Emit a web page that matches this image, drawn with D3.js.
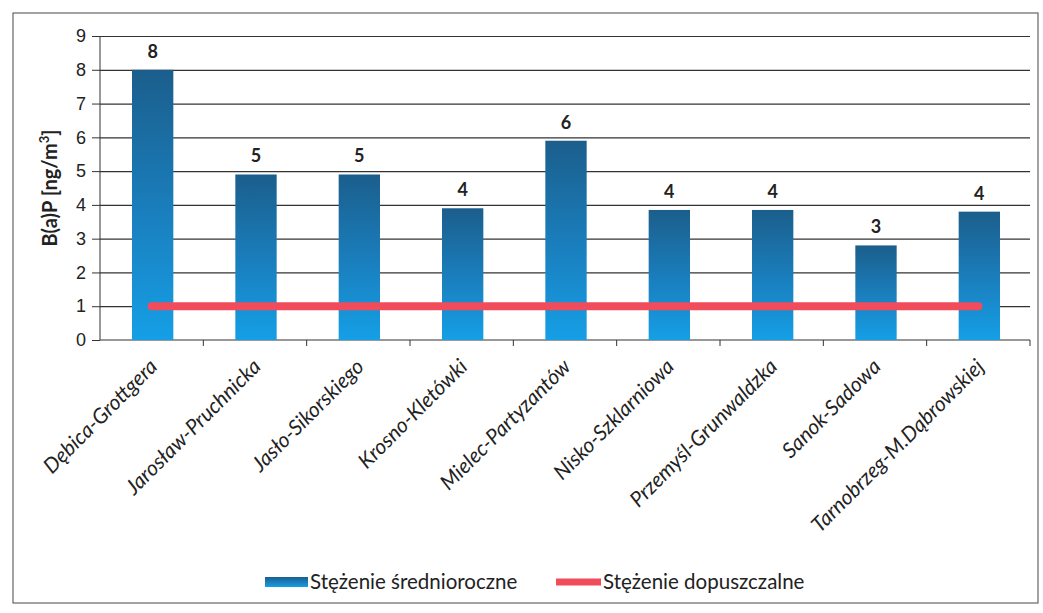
<!DOCTYPE html>
<html>
<head>
<meta charset="utf-8">
<script src="https://cdn.jsdelivr.net/npm/d3@7"></script>
<style>
  body { margin: 0; background: #fff; }
  svg { display: block; font-family: Lato, "Open Sans", sans-serif; }
</style>
</head>
<body>
<svg id="chart"></svg>
<script>
const stations = ['Dębica-Grottgera', 'Jarosław-Pruchnicka', 'Jasło-Sikorskiego', 'Krosno-Kletówki',
  'Mielec-Partyzantów', 'Nisko-Szklarniowa', 'Przemyśl-Grunwaldzka', 'Sanok-Sadowa', 'Tarnobrzeg-M.Dąbrowskiej'];
const annualMean = [8.0, 4.9, 4.9, 3.9, 5.9, 3.85, 3.85, 2.8, 3.8];
const limitValue = [1, 1, 1, 1, 1, 1, 1, 1, 1];
const yTicks = [0, 1, 2, 3, 4, 5, 6, 7, 8, 9];
const seriesNames = ['Stężenie średnioroczne', 'Stężenie dopuszczalne'];

(function() {
    const W = 1043, H = 613;
    const left = 100, right = 1030, top = 36, bottom = 340;

    const svg = d3.select('svg#chart')
        .attr('width', W)
        .attr('height', H);

    // outer frame of the pasted chart
    svg.append('rect')
        .attr('x', 13).attr('y', 13)
        .attr('width', 1025).attr('height', 590)
        .attr('fill', 'none')
        .attr('stroke', '#666')
        .attr('stroke-width', 1.2);

    const defs = svg.append('defs');
    const grad = defs.append('linearGradient')
        .attr('id', 'barGrad')
        .attr('x1', 0).attr('y1', 0).attr('x2', 0).attr('y2', 1);
    grad.append('stop').attr('offset', '0%').attr('stop-color', '#1b5e8c');
    grad.append('stop').attr('offset', '55%').attr('stop-color', '#1a80bf');
    grad.append('stop').attr('offset', '100%').attr('stop-color', '#159fe6');

    const x = d3.scaleBand()
        .domain(stations)
        .range([left, right])
        .paddingInner(0.6)
        .paddingOuter(0.3);

    const xCat = d3.scaleBand()
        .domain(stations)
        .range([left, right]);

    const y = d3.scaleLinear()
        .domain([0, 9])
        .range([bottom, top]);

    // grid + y axis
    const yAxis = svg.append('g')
        .attr('transform', `translate(${left}, 0)`)
        .call(d3.axisLeft(y).tickValues(yTicks).tickSize(8).tickPadding(6));
    yAxis.select('.domain').attr('stroke', '#333').attr('d', `M0,${top}V${bottom}`);
    yAxis.selectAll('.tick line').attr('stroke', '#333');
    yAxis.selectAll('.tick text')
        .attr('fill', '#222')
        .style('font-size', '18px');

    svg.append('g')
        .attr('transform', `translate(${left}, 0)`)
        .call(d3.axisLeft(y).tickValues(yTicks.slice(1)).tickSize(-(right - left)).tickFormat(''))
        .call(g => g.select('.domain').remove())
        .selectAll('.tick line')
        .attr('stroke', '#333')
        .attr('stroke-width', 1.2);

    // x axis with ticks between categories
    const xAxis = svg.append('g')
        .attr('transform', `translate(0, ${bottom})`);
    xAxis.append('line')
        .attr('x1', left).attr('x2', right)
        .attr('stroke', '#333').attr('stroke-width', 1.2);
    xAxis.selectAll('.xt')
        .data(stations)
        .enter()
        .append('line')
        .attr('class', 'xt')
        .attr('x1', d => xCat(d) + xCat.bandwidth())
        .attr('x2', d => xCat(d) + xCat.bandwidth())
        .attr('y1', 0).attr('y2', 6)
        .attr('stroke', '#333');

    xAxis.selectAll('.xl')
        .data(stations)
        .enter()
        .append('text')
        .attr('class', 'xl')
        .attr('transform', d => `translate(${xCat(d) + xCat.bandwidth() / 2 + 7}, 28) rotate(-45)`)
        .attr('text-anchor', 'end')
        .attr('font-style', 'italic')
        .attr('fill', '#222')
        .style('font-size', '21px')
        .text(d => d);

    // bars
    svg.append('g')
        .selectAll('rect')
        .data(stations)
        .enter()
        .append('rect')
        .attr('x', d => x(d) + 1)
        .attr('y', (d, i) => y(annualMean[i]))
        .attr('width', x.bandwidth())
        .attr('height', (d, i) => bottom - y(annualMean[i]))
        .attr('fill', 'url(#barGrad)');

    // value labels
    svg.append('g')
        .selectAll('text')
        .data(stations)
        .enter()
        .append('text')
        .attr('x', d => x(d) + x.bandwidth() / 2 + 1)
        .attr('y', (d, i) => y(annualMean[i]) - 12)
        .attr('text-anchor', 'middle')
        .attr('fill', '#222')
        .style('font-size', '18px')
        .style('font-weight', 'bold')
        .text((d, i) => d3.format('.0f')(annualMean[i]));

    // limit line
    const line = d3.line()
        .x(d => xCat(d) + xCat.bandwidth() / 2)
        .y((d, i) => y(limitValue[i]));
    svg.append('path')
        .datum(stations)
        .attr('d', line)
        .attr('fill', 'none')
        .attr('stroke', '#f04c5c')
        .attr('stroke-width', 8)
        .attr('stroke-linecap', 'round');

    // y label
    svg.append('text')
        .attr('transform', `translate(57, 188) rotate(-90)`)
        .attr('text-anchor', 'middle')
        .attr('fill', '#222')
        .style('font-size', '20px')
        .style('font-weight', 'bold')
        .html('B(a)P [ng/m<tspan dy="-8" font-size="13px">3</tspan><tspan dy="8">]</tspan>');

    // legend
    const legend = svg.append('g').attr('transform', 'translate(0, 582)');
    legend.append('rect')
        .attr('x', 265).attr('y', -5)
        .attr('width', 43).attr('height', 10)
        .attr('fill', 'url(#barGrad)');
    legend.append('text')
        .attr('x', 310).attr('y', 7)
        .attr('fill', '#222')
        .style('font-size', '20.5px')
        .text(seriesNames[0]);
    legend.append('line')
        .attr('x1', 556).attr('x2', 601)
        .attr('y1', 0).attr('y2', 0)
        .attr('stroke', '#f04c5c')
        .attr('stroke-width', 7);
    legend.append('text')
        .attr('x', 603).attr('y', 7)
        .attr('fill', '#222')
        .style('font-size', '20.5px')
        .text(seriesNames[1]);
})();
</script>
</body>
</html>
